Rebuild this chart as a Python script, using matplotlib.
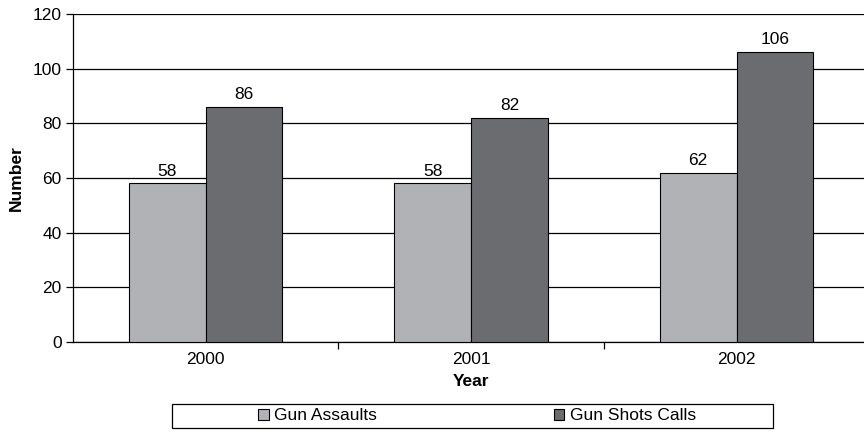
import numpy as np
import matplotlib
matplotlib.use("Agg")
import matplotlib.pyplot as plt
from matplotlib.patches import Rectangle

plt.rcParams["font.family"] = ["Liberation Sans", "DejaVu Sans"]

# --- data ---
years = ["2000", "2001", "2002"]
gun_assaults = [58, 58, 62]
gun_shots_calls = [86, 82, 106]
series_names = ["Gun Assaults", "Gun Shots Calls"]
colors = ["#b1b2b6", "#6b6c70"]

fs = 12.5

fig = plt.figure(figsize=(8.64, 4.32), dpi=100)
ax = fig.add_axes([72.75 / 864, 90 / 432, 796.5 / 864, 328 / 432])

x = np.arange(len(years))
w = 0.29
b1 = ax.bar(x - w / 2, gun_assaults, w, color=colors[0], edgecolor="black",
            linewidth=0.8, label=series_names[0], zorder=3)
b2 = ax.bar(x + w / 2, gun_shots_calls, w, color=colors[1], edgecolor="black",
            linewidth=0.8, label=series_names[1], zorder=3)

for bars in (b1, b2):
    for r in bars:
        ax.text(r.get_x() + r.get_width() / 2, r.get_height() + 1.8,
                f"{int(r.get_height())}", ha="center", va="bottom", fontsize=fs)

ax.set_xlim(-0.5, 2.5)
ax.set_ylim(0, 120)
ax.set_yticks(range(0, 121, 20))
ax.yaxis.grid(True, color="black", linewidth=0.9, zorder=0)
ax.set_axisbelow(True)

ax.set_xticks(x)
ax.set_xticklabels(years)
ax.set_xticks([0.5, 1.5], minor=True)
ax.tick_params(axis="x", which="major", length=0, pad=7, labelsize=fs)
ax.tick_params(axis="x", which="minor", length=5, direction="out", width=0.9)
ax.tick_params(axis="y", length=5, direction="out", width=0.9, labelsize=fs, pad=3)

for s in ["top", "right"]:
    ax.spines[s].set_visible(False)
ax.spines["left"].set_linewidth(0.9)
ax.spines["bottom"].set_linewidth(0.9)

ax.set_xlabel("Year", fontweight="bold", fontsize=fs, labelpad=5)
ax.set_ylabel("Number", fontweight="bold", fontsize=fs, labelpad=6)

# legend box drawn separately so entries sit where the reference has them
fig.patches.append(Rectangle((172 / 864, 4 / 432), 601 / 864, 24 / 432,
                             transform=fig.transFigure, facecolor="white",
                             edgecolor="black", linewidth=0.9))
leg = fig.legend(loc="center", bbox_to_anchor=(477 / 864, 16 / 432),
                 ncol=2, frameon=False, fontsize=fs,
                 handlelength=0.6, handleheight=0.6, handletextpad=0.3,
                 columnspacing=10.2, borderaxespad=0, borderpad=0)

fig.savefig("out.png", dpi=100)
plt.close(fig)
